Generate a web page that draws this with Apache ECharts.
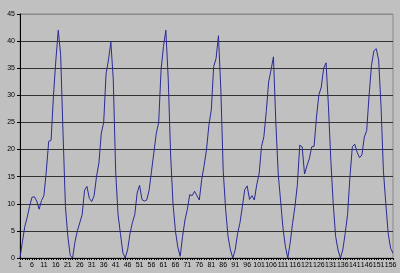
<!DOCTYPE html>
<html>
<head>
<meta charset="utf-8">
<script src="https://cdn.jsdelivr.net/npm/echarts@6/dist/echarts.min.js"></script>
<style>
html,body{margin:0;padding:0;background:#c0c0c0;}
#chart{width:400px;height:273px;}
</style>
</head>
<body>
<div id="chart"></div>
<script>
const categories = [];
for (let i = 1; i <= 157; i++) categories.push(String(i));

const seriesValues = [
  0, 3, 5.8, 7.5, 9.5, 11.2, 11.3, 10.5, 9, 10.6,
  11.5, 16, 21.5, 21.7, 30, 36.5, 42, 37.5, 23, 9.5,
  4, 0.5, 0, 3, 5, 6.5, 8, 12.5, 13.2, 11,
  10.4, 11.5, 15, 17.5, 23, 25, 34, 36.5, 39.8, 33,
  16, 8, 4.5, 1, 0, 1.5, 4.5, 6.5, 8, 12,
  13.4, 10.8, 10.5, 10.7, 12.5, 16, 19.5, 23, 25, 34.7,
  39, 42, 33, 19, 10, 5, 2, 0.3, 4, 7,
  9, 11.7, 11.5, 12.3, 11.5, 10.7, 14.5, 17, 20, 24.5,
  27.3, 35.3, 36.8, 41, 31, 16, 9, 4, 1.5, 0,
  1.5, 4.5, 6.5, 9.5, 12.6, 13.3, 10.8, 11.5, 10.7, 13.5,
  15.5, 20.5, 22.4, 27, 32.5, 34.7, 37.1, 25, 15.5, 10.5,
  5.5, 2.1, 0, 2.8, 6.4, 9.5, 13.5, 20.8, 20.5, 15.5,
  17, 18.3, 20.5, 20.6, 26, 30.1, 31.5, 35, 36, 28,
  18, 10, 4, 1.5, 0, 1.5, 4.5, 8, 15, 20.5,
  21, 19.5, 18.5, 19, 22.3, 23.5, 30, 35.5, 38.2, 38.6,
  36.5, 28, 16, 10, 4.5, 1.8, 0.9
];

const yTicks = { min: 0, max: 45, step: 5 };

const chart = echarts.init(document.getElementById('chart'), null, { renderer: 'canvas' });
chart.setOption({
  backgroundColor: '#c0c0c0',
  animation: false,
  grid: { left: 20, right: 7, top: 14, bottom: 15, show: true, borderColor: '#8a8a8a', borderWidth: 1, backgroundColor: '#c0c0c0' },
  xAxis: {
    type: 'category',
    data: categories,
    boundaryGap: false,
    axisLine: { lineStyle: { color: '#000', width: 1 } },
    axisTick: { show: true, interval: 0, length: 2, lineStyle: { color: '#000' } },
    axisLabel: { interval: 4, fontSize: 7, color: '#000', margin: 4, fontFamily: 'Liberation Sans' },
    splitLine: { show: false }
  },
  yAxis: {
    type: 'value',
    min: yTicks.min, max: yTicks.max, interval: yTicks.step,
    axisLine: { show: true, lineStyle: { color: '#000', width: 1 } },
    axisTick: { show: true, length: 3, lineStyle: { color: '#000' } },
    axisLabel: { fontSize: 7, color: '#000', margin: 5, fontFamily: 'Liberation Sans' },
    splitLine: { show: true, lineStyle: { color: ['#000','#333','#333','#333','#333','#333','#333','#333','#333','#8a8a8a'], width: 1 } }
  },
  series: [{
    type: 'line',
    data: seriesValues,
    symbol: 'none',
    smooth: false,
    lineStyle: { color: '#2a2a95', width: 1 }
  }]
});
</script>
</body>
</html>
